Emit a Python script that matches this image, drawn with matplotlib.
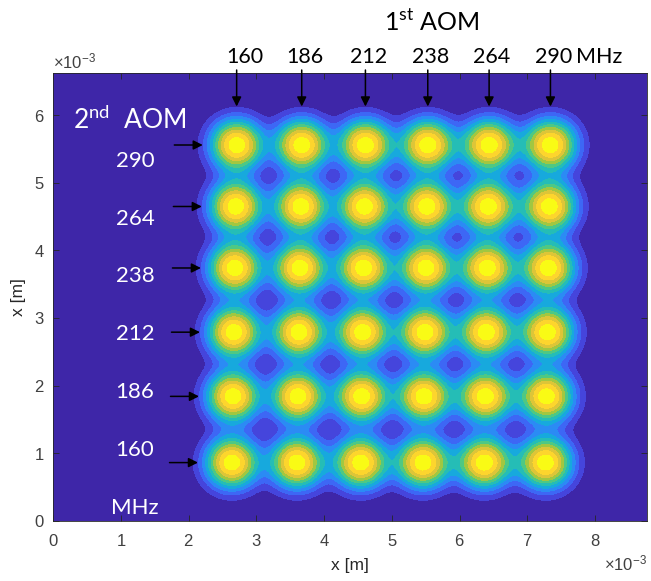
import numpy as np
import matplotlib
matplotlib.use("Agg")
import matplotlib.pyplot as plt
from matplotlib.colors import LinearSegmentedColormap

# spot centres (mm), middle of the grid
x_centers = [2.675, 3.635, 4.575, 5.495, 6.40, 7.305]
y_centers = [0.86, 1.84, 2.79, 3.74, 4.65, 5.56]
x_shear = 0.015          # columns lean slightly to the right going up
w_x = 0.393              # spot radius (mm)
w_y = 0.384
edge_power = 2.3         # spot profile exp(-(r/w)^p)
peak_scale = 1.06        # peaks sit a little above the top contour level

freq_1st = ["160", "186", "212", "238", "264", "290"]
freq_2nd = ["290", "264", "238", "212", "186", "160"]

x_max = 8.76
y_max = 6.63

# MATLAB parula, 8 samples
parula_pts = [
    (0.2422, 0.1504, 0.6603),
    (0.2810, 0.3228, 0.9579),
    (0.1786, 0.5289, 0.9682),
    (0.0689, 0.6948, 0.8394),
    (0.2161, 0.7843, 0.5923),
    (0.6720, 0.7793, 0.2227),
    (0.9970, 0.7659, 0.2199),
    (0.9769, 0.9839, 0.0805),
]
parula = LinearSegmentedColormap.from_list("parula", parula_pts)

plt.rcParams["font.family"] = ["Liberation Sans", "DejaVu Sans"]
plt.rcParams["mathtext.fontset"] = "custom"
plt.rcParams["mathtext.rm"] = "Lato"
ANNOT_FONT = ["Lato", "DejaVu Sans"]

# intensity field from the 6x6 spots
xg = np.linspace(0, x_max, 640)
yg = np.linspace(0, y_max, 485)
X, Y = np.meshgrid(xg, yg)
Z = np.zeros_like(X)
y_mid = np.mean(y_centers)
for yc in y_centers:
    for xc in x_centers:
        xs = xc + x_shear * (yc - y_mid)
        r2 = ((X - xs) / w_x) ** 2 + ((Y - yc) / w_y) ** 2
        Z += np.exp(-r2 ** (edge_power / 2))
Z = Z / Z.max() * peak_scale

# levels 0, 0.1 ... 1.0 plus the top of the peaks -> 11 filled bands
levels = np.append(np.linspace(0, 1, 11), Z.max() + 0.01)
levels[0] = -0.01
n_bands = len(levels) - 1
colors = [parula(k / (n_bands - 1)) for k in range(n_bands)]

fig = plt.figure(figsize=(6.51, 5.81), dpi=100)
ax = fig.add_axes([53 / 651, 1 - 520.7 / 581, (646.7 - 53) / 651, (520.7 - 72.7) / 581])
ax.contourf(X * 1e-3, Y * 1e-3, Z, levels=levels, colors=colors, antialiased=False)

ax.set_xlim(0, x_max * 1e-3)
ax.set_ylim(0, y_max * 1e-3)
ax.set_xticks(np.arange(0, 9) * 1e-3)
ax.set_yticks(np.arange(0, 7) * 1e-3)
ax.ticklabel_format(style="sci", scilimits=(0, 0), useMathText=True)
for off in (ax.xaxis.get_offset_text(), ax.yaxis.get_offset_text()):
    off.set_fontsize(12)
    off.set_color("#404040")
ax.tick_params(direction="in", top=True, right=True, length=4, width=0.6,
               color="#262626", labelcolor="#404040", labelsize=12)
ax.tick_params(axis="x", pad=9)
ax.tick_params(axis="y", pad=6)
for sp in ax.spines.values():
    sp.set_color("#262626")
    sp.set_linewidth(0.6)
ax.set_xlabel("x [m]", fontsize=12.5, color="#262626", labelpad=6)
ax.set_ylabel("x [m]", fontsize=12.5, color="#262626", labelpad=6)

arrow_kw = dict(arrowstyle="-|>", color="black", lw=1.1, mutation_scale=14,
                shrinkA=0, shrinkB=0)

# 1st AOM: arrows from the top onto the upper row
top_row = max(y_centers)
for i, (xc, lab) in enumerate(zip(x_centers, freq_1st)):
    xs = (xc + x_shear * (top_row - y_mid)) * 1e-3
    ax.annotate("", xy=(xs, 6.13e-3), xytext=(xs, 6.67e-3),
                arrowprops=arrow_kw, annotation_clip=False)
    nudge = 0.12e-3 if i == 0 else 0.04e-3
    ax.text(xs + nudge, 6.77e-3, lab, ha="center", va="baseline", fontsize=15.5,
            family=ANNOT_FONT, color="black", clip_on=False)
ax.text((x_centers[-1] + x_shear * (top_row - y_mid) + 0.38) * 1e-3, 6.77e-3, "MHz",
        ha="left", va="baseline", fontsize=15.5, family=ANNOT_FONT, clip_on=False)
fig.text(432 / 651, 1 - 22 / 581, r"1$^{\mathrm{st}}$ AOM", ha="center", va="center",
         fontsize=18, family=ANNOT_FONT, color="black")

# 2nd AOM: arrows from the left onto the first column
label_y = np.linspace(5.33, 1.04, len(freq_2nd))
for yc, ly, lab in zip(sorted(y_centers, reverse=True), label_y, freq_2nd):
    tip = x_centers[0] + x_shear * (yc - y_mid) - 0.5
    ax.annotate("", xy=(tip * 1e-3, yc * 1e-3), xytext=((tip - 0.42) * 1e-3, yc * 1e-3),
                arrowprops=arrow_kw)
    ax.text(1.21e-3, ly * 1e-3, lab, ha="center", va="center", fontsize=16,
            family=ANNOT_FONT, color="white")
ax.text(1.21e-3, 0.19e-3, "MHz", ha="center", va="center", fontsize=16,
        family=ANNOT_FONT, color="white")
ax.text(1.13e-3, 5.93e-3, r"2$^{\mathrm{nd}}$  AOM", ha="center", va="center",
        fontsize=19, family=ANNOT_FONT, color="white")

fig.savefig("out.png", dpi=100)
